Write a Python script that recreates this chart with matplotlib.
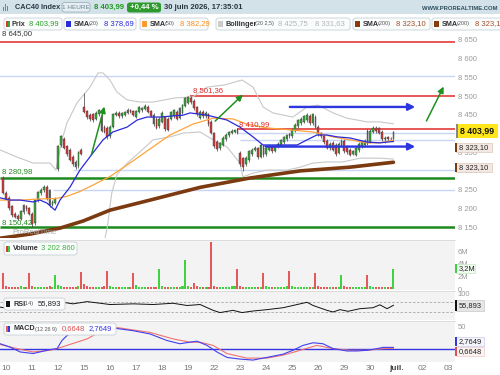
import numpy as np
import matplotlib.pyplot as plt
from matplotlib.patches import Rectangle, FancyBboxPatch

plt.rcParams['font.family'] = ['Liberation Sans', 'DejaVu Sans']

W, H = 500, 375

# hourly bars, bar 0 = first bar of 10 juin, 9 bars per session
first_bar = -1
opens = [8282,
         8242, 8228, 8205, 8186, 8180, 8172, 8190, 8206, 8200,
         8185, 8160, 8222, 8240, 8248, 8258, 8248, 8210, 8215,
         8305, 8368, 8386, 8366, 8356, 8338, 8325, 8312, 8356,
         8470, 8460, 8450, 8452, 8440, 8452, 8445, 8418, 8415,
         8392, 8418, 8450, 8456, 8446, 8450, 8456, 8462, 8460,
         8445, 8458, 8462, 8466, 8472, 8460, 8450, 8440, 8420,
         8432, 8444, 8440, 8440, 8446, 8458, 8442, 8455, 8474,
         8482, 8496, 8488, 8470, 8442, 8458, 8446, 8452, 8432,
         8400, 8378, 8360, 8370, 8384, 8395, 8402, 8404, 8410,
         8348, 8334, 8318, 8328, 8345, 8356, 8360, 8338, 8366,
         8344, 8356, 8364, 8354, 8364, 8370, 8376, 8385, 8398,
         8392, 8408, 8420, 8428, 8432, 8436, 8448, 8428, 8445,
         8418, 8400, 8393, 8380, 8360, 8375, 8370, 8348, 8370,
         8380, 8365, 8356, 8346, 8343, 8355, 8366, 8370, 8408,
         8378, 8404, 8416, 8414, 8405, 8385, 8390, 8386, 8384]
closes = [8242,
          8226, 8200, 8182, 8178, 8172, 8192, 8208, 8198, 8185,
          8158, 8222, 8243, 8250, 8258, 8225, 8208, 8218, 8225,
          8366, 8392, 8362, 8345, 8330, 8318, 8310, 8350, 8346,
          8458, 8444, 8438, 8436, 8455, 8462, 8408, 8404, 8390,
          8418, 8452, 8456, 8446, 8454, 8457, 8463, 8458, 8450,
          8460, 8470, 8468, 8474, 8458, 8448, 8425, 8416, 8440,
          8456, 8412, 8410, 8457, 8462, 8440, 8468, 8476, 8494,
          8497, 8484, 8468, 8452, 8458, 8446, 8455, 8425, 8402,
          8366, 8358, 8374, 8388, 8396, 8404, 8408, 8410, 8402,
          8318, 8310, 8335, 8352, 8356, 8362, 8336, 8370, 8342,
          8362, 8364, 8352, 8366, 8372, 8382, 8390, 8395, 8392,
          8410, 8424, 8436, 8440, 8446, 8450, 8428, 8452, 8418,
          8398, 8392, 8376, 8362, 8372, 8357, 8345, 8372, 8380,
          8352, 8350, 8343, 8352, 8362, 8372, 8376, 8380, 8372,
          8408, 8415, 8406, 8402, 8385, 8388, 8385, 8384, 8403.99]
hi_extra = {27: 8508, 63: 8501.36, 79: 8410.99, 106: 8456, 129: 8418}
lo_extra = {9: 8150.42, 73: 8352, 82: 8301, 131: 8375}
wick = 4

# volume in millions
volumes = [2.6,
           0.45, 0.35, 0.3, 0.35, 0.3, 0.45, 0.35, 0.3, 2.6,
           0.55, 0.4, 0.35, 0.3, 0.3, 0.35, 0.45, 0.4, 2.25,
           0.7, 0.5, 0.35, 0.35, 0.3, 0.35, 0.3, 0.55, 2.75,
           0.75, 0.45, 0.35, 0.3, 0.35, 0.3, 0.3, 0.5, 2.9,
           0.45, 0.3, 0.3, 0.3, 0.25, 0.3, 0.35, 0.3, 2.5,
           0.6, 0.35, 0.3, 0.3, 0.25, 0.3, 0.35, 0.4, 3.2,
           0.5, 0.35, 0.3, 0.3, 0.3, 0.25, 0.35, 0.45, 4.6,
           0.5, 0.35, 1.0, 0.45, 0.3, 0.3, 0.35, 0.4, 7.6,
           0.45, 0.35, 0.3, 0.3, 0.3, 0.35, 0.45, 0.5, 3.2,
           0.5, 0.35, 0.3, 0.3, 0.25, 0.3, 0.35, 0.4, 2.6,
           0.45, 0.35, 0.3, 0.3, 0.3, 0.35, 0.4, 0.5, 2.9,
           0.45, 0.35, 0.3, 0.3, 0.25, 0.3, 0.35, 0.4, 2.5,
           0.5, 0.35, 0.3, 0.3, 0.3, 0.3, 0.35, 0.4, 2.3,
           0.45, 0.35, 0.3, 0.3, 0.25, 0.3, 0.3, 0.35, 2.3,
           0.5, 0.35, 0.3, 0.3, 0.25, 0.3, 0.35, 0.4, 3.2]

day_labels = ['10', '11', '12', '15', '16', '17', '18', '19', '22', '23',
              '24', '25', '26', '29', '30', 'juil.', '02', '03']

# indicators (bar position, value)
sma20_at = [-2.1, 1.3, 4.8, 9.3, 11.7, 14.1, 16.9, 18.6, 22.1, 25.5, 30, 33.5, 36.9,
            41.8, 45.3, 48.7, 53.2, 57.7, 61.2, 63.6, 69.5, 76.4, 80.9, 85.4, 88.9,
            100.6, 104.1, 107.5, 111, 114.5, 119, 124.9, 129.3, 134]
sma20 = [8228, 8222, 8222, 8217, 8222, 8214, 8195, 8222, 8257, 8302, 8348, 8383, 8404,
         8417, 8436, 8444, 8444, 8447, 8449, 8455, 8449, 8436, 8417, 8391, 8369,
         8369, 8383, 8396, 8396, 8391, 8388, 8377, 8375, 8378.69]
sma50_at = [-2.1, 4.8, 11.7, 16.9, 21, 25.5, 30, 35.9, 42.8, 49.8, 56.7, 64.6, 71.6,
            78.5, 83.3, 90.2, 99.2, 106.2, 113.1, 119, 124.9, 129.3, 134]
sma50 = [8222, 8222, 8225, 8226, 8232, 8245, 8262, 8285, 8321, 8359, 8396, 8425, 8441,
         8439, 8425, 8415, 8409, 8404, 8391, 8383, 8375, 8375, 8382.29]
sma200_at = [-2.1, 8.2, 18.6, 26.6, 35.9, 49.8, 67.1, 84.4, 101.7, 119, 134]
sma200 = [8120, 8131, 8147, 8166, 8195, 8222, 8256, 8281, 8300, 8310, 8323.10]
boll_up_at = [-2.1, 3.7, 9.3, 15.2, 17.2, 19.3, 21, 24.5, 29, 31.8, 33.5, 35.9, 38.3,
              41.8, 46.3, 50.8, 54.9, 58.4, 64.6, 69.5, 75.7, 81.6, 85.4, 88.9, 92.3,
              99.2, 104.1, 107.9, 113.1, 117.9, 124.9, 129.3, 134]
boll_up = [8356, 8337, 8321, 8321, 8302, 8383, 8428, 8482, 8524, 8562, 8562, 8543, 8511,
           8490, 8484, 8484, 8490, 8495, 8498, 8524, 8530, 8543, 8524, 8471, 8455,
           8444, 8471, 8476, 8455, 8441, 8431, 8431, 8425.75]
boll_lo_at = [-2.1, 9.3, 15.2, 17.5, 21, 25.5, 30, 33.5, 35, 36.5, 38.3, 41.8, 46.3,
              50.8, 56.7, 61.2, 67.1, 71.6, 76.4, 80.9, 81.9, 85.4, 90.2, 97.2, 101.7,
              106.2, 111, 116.5, 122.4, 129.3, 134]
boll_lo = [8105, 8112, 8108, 8080, 8058, 8070, 8085, 8095, 8150, 8240, 8290, 8320, 8351,
           8383, 8391, 8401, 8404, 8383, 8364, 8321, 8284, 8294, 8302, 8302, 8310,
           8321, 8324, 8324, 8334, 8334, 8331.63]
rsi_at = [-2.1, 1.3, 4.8, 9.3, 12.7, 16.2, 19.7, 23.1, 28, 32.5, 35.9, 44, 50.8, 57.7,
          62.6, 67.1, 71.6, 74, 78.5, 81.6, 85.4, 90.2, 95.8, 101.7, 104.1, 106.2, 111,
          113.1, 115.5, 118.3, 122.4, 126.9, 129.3, 131.8, 134]
rsi = [48.7, 42.7, 39, 42.7, 48.7, 51, 67.4, 61.4, 70, 63.7, 58.8, 61.4, 58.8, 63.7,
       55, 58.8, 36.3, 27.7, 36.3, 27.7, 33.7, 39, 46.4, 61.4, 67.4, 55, 36.3,
       30, 39, 32.6, 42.7, 46.4, 57.7, 42.7, 55.893]
macd_at = [-2.1, 1.3, 4.8, 9.3, 12.7, 15.2, 17.6, 19.3, 21, 25, 30, 34, 38.3, 44, 49.8,
           55.6, 60.1, 63.6, 66, 69.5, 72.9, 76.4, 80.9, 85.4, 90.2, 95.8, 99.2, 102.7,
           106.2, 109.6, 113.1, 117.9, 121.4, 124.9, 128.3, 130.4, 134]
macd = [11.1, 3.5, -7.5, -11.1, -6, -2.2, 0, 18.4, 29.4, 45, 55, 52, 45.6, 40.5, 33.2,
        18.4, 11.1, 14.6, 16.8, 7.3, -7.5, -19.9, -23.7, -25.9, -19.9, -12.6, -3.8, 7.3,
        13.3, 11.1, 0, -5.3, -5.3, -3.8, 0, 2.9, 2.7649]
signal_at = [-2.1, 3.7, 9.3, 15.2, 17.6, 21, 25.5, 28, 33, 38.3, 49.8, 57.7, 63.6, 67.1,
             71.6, 76.4, 83.3, 90.2, 95.8, 101.7, 107.5, 113.1, 119, 124.9, 130.4, 134]
signal = [9.5, 0, -7.5, -3.8, 0, 7.3, 16.8, 22.1, 40, 47.8, 36.7, 22.1, 14.6, 14.6,
          7.3, -11.1, -21.5, -21.5, -14.8, -3.8, 7.3, 0, -3.8, -3.8, 0, 0.6648]

# drawn levels and arrows
red_levels = [8645.00, 8501.36, 8410.99]
red_start = [-3, 63.6, 79.9]
green_levels = [8280.98, 8150.42]
blue_levels = [8555, 8400.5, 8383, 8302, 8249]
blue_start = [-3, 79.9, 80.9, 23.2, 16.2]
green_arrows = [((29.2, 8335), (34.2, 8479)), ((71.6, 8428), (82.6, 8509)),
                ((145.0, 8427), (151.8, 8532))]
blue_arrows = [(8471, 97.2, 142.5), (8365, 88.9, 142.5)]

XMIN, XMAX = -2.15, 155.3

fig = plt.figure(figsize=(W / 100, H / 100), dpi=100)


def box(x0, y0, x1, y1):
    return [x0 / W, 1 - y1 / H, (x1 - x0) / W, (y1 - y0) / H]


def ftext(x, y, s, **kw):
    kw.setdefault('va', 'center')
    kw.setdefault('fontsize', 5.5)
    return fig.text(x / W, 1 - y / H, s, **kw)


def frect(x0, y0, x1, y1, rounded=False, **kw):
    if rounded:
        p = FancyBboxPatch((x0 / W, 1 - y1 / H), (x1 - x0) / W, (y1 - y0) / H,
                           boxstyle='round,pad=0,rounding_size=0.006',
                           transform=fig.transFigure, **kw)
    else:
        p = Rectangle((x0 / W, 1 - y1 / H), (x1 - x0) / W, (y1 - y0) / H,
                      transform=fig.transFigure, **kw)
    fig.patches.append(p)


def fmt(v):
    return f'{v:,.0f}'.replace(',', ' ')


ax = fig.add_axes(box(0, 30, 455, 238))
axv = fig.add_axes(box(0, 240, 455, 290))
axr = fig.add_axes(box(0, 291, 455, 320))
axm = fig.add_axes(box(0, 321, 455, 362))

for a in (ax, axv, axr, axm):
    a.set_xlim(XMIN, XMAX)
    for s in a.spines.values():
        s.set_visible(False)
    a.yaxis.tick_right()
    a.tick_params(axis='y', length=0, pad=2, labelsize=5.5, labelcolor='#9a9a9a')
    a.tick_params(axis='x', length=0, labelbottom=False)
for a in (axv, axr, axm):
    a.set_facecolor('#f3f3f3')
    a.spines['top'].set_visible(True)
    a.spines['top'].set_color('#d8d8d8')
    a.spines['top'].set_linewidth(0.6)

# ---- price panel
ax.set_ylim(8120.6, 8676.7)
price_ticks = list(range(8150, 8651, 50))
ax.set_yticks(price_ticks)
# 8 400 sits fully under the last-price tag
ax.set_yticklabels(['' if v == 8400 else fmt(v) for v in price_ticks])

bars = np.arange(first_bar, first_bar + len(closes))
o = np.array(opens, float)
c = np.array(closes, float)
hi = np.maximum(o, c) + wick
lo = np.minimum(o, c) - wick
for k, v in hi_extra.items():
    hi[k - first_bar] = v
for k, v in lo_extra.items():
    lo[k - first_bar] = v
up = c >= o

for lv, st in zip(blue_levels, blue_start):
    ax.hlines(lv, st, XMAX, color='#c9d5f7', lw=1.0, zorder=1)
ax.add_patch(Rectangle((88.9, 8363), 11.7, 10, color='#b7c5f3', lw=0, zorder=1))
for lv, st in zip(red_levels, red_start):
    ax.hlines(lv, st, XMAX, color='#e02a2a', lw=1.1, zorder=2)
for lv in green_levels:
    ax.hlines(lv, XMIN, XMAX, color='#1d8a1d', lw=1.8, zorder=2)

ax.plot(boll_up_at, boll_up, color='#c8c8c8', lw=0.8, zorder=2)
ax.plot(boll_lo_at, boll_lo, color='#c8c8c8', lw=0.8, zorder=2)
ax.plot(sma200_at, sma200, color='#7b3a10', lw=2.6, zorder=3, solid_capstyle='round')

ax.vlines(bars, lo, hi, color='#3a3a3a', lw=0.5, zorder=4)
ax.bar(bars, np.maximum(np.abs(c - o), 1.0), bottom=np.minimum(o, c), width=0.62,
       color=np.where(up, '#37a837', '#d83b3b'), edgecolor='#3a3a3a', linewidth=0.3, zorder=5)

ax.plot(sma50_at, sma50, color='#ffa43a', lw=0.9, zorder=6)
ax.plot(sma20_at, sma20, color='#2a2ad8', lw=0.9, zorder=6)

for (x0, y0), (x1, y1) in green_arrows:
    ax.annotate('', xy=(x1, y1), xytext=(x0, y0), zorder=7,
                arrowprops=dict(arrowstyle='-|>', color='#1f8f1f', lw=1.1, mutation_scale=9))
for lv, x0, x1 in blue_arrows:
    ax.annotate('', xy=(x1, lv), xytext=(x0, lv), zorder=7,
                arrowprops=dict(arrowstyle='-|>', color='#2b35e0', lw=1.7, mutation_scale=10))

ax.text(-1.5, 8668, '8 645,00', fontsize=5.6, color='#333333', va='center', zorder=8)
ax.text(-1.5, 8297, '8 280,98', fontsize=5.6, color='#1d8a1d', va='center', zorder=8)
ax.text(-1.5, 8163, '8 150,42', fontsize=5.6, color='#1d8a1d', va='center', zorder=8)
ax.text(64.7, 8514, '8 501,36', fontsize=5.6, color='#e02a2a', va='center', zorder=8)
ax.text(80.6, 8423, '8 410,99', fontsize=5.6, color='#e02a2a', va='center', zorder=8)
ax.text(2.2, 8134, 'ProRealTime', fontsize=5.5, color='#a8a8a8', va='center', zorder=8)

# ---- volume panel
axv.set_ylim(-0.16, 7.84)
axv.set_yticks([0, 2, 4, 6])
axv.set_yticklabels(['0', '2M', '4M', '6M'])
axv.bar(bars, volumes, width=0.7, color=np.where(up, '#3fd13f', '#e35a5a'), lw=0)

# ---- RSI panel
axr.set_ylim(-1, 111)
axr.set_yticks([100])
axr.set_yticklabels(['100'])
for lv in (70, 30):
    axr.axhline(lv, color='#a8a8a8', lw=0.6, ls=(0, (3, 2)))
axr.plot(rsi_at, rsi, color='#111111', lw=0.7)

# ---- MACD panel
axm.set_ylim(-30.3, 62.6)
axm.set_yticks([50])
axm.set_yticklabels(['50'])
axm.axhline(0, color='#3535e6', lw=1.0)
axm.plot(signal_at, signal, color='#f07272', lw=0.8)
axm.plot(macd_at, macd, color='#4040f0', lw=0.8)
axm.set_xticks([9 * k for k in range(len(day_labels))])
axm.set_xticklabels(day_labels)
axm.tick_params(axis='x', labelbottom=True, pad=2, labelsize=6, labelcolor='#777777')
for t in axm.get_xticklabels():
    if t.get_text() == 'juil.':
        t.set_fontweight('bold')
        t.set_color('#444444')

# ---- header
frect(0, 0, 500, 14, color='#d3e1e9', lw=0)
for i, hgt in enumerate([4, 7, 5]):
    frect(3 + 2 * i, 11 - hgt, 4.3 + 2 * i, 11, color='#4a90c8', lw=0)
ftext(15, 7.5, 'CAC40 Index', fontsize=5.3, fontweight='bold', color='#2a3a44')
frect(62, 2.5, 90, 12, rounded=True, fc='#e4eef3', ec='#9fb2bc', lw=0.6)
ftext(76, 7.5, '1 HEURE', fontsize=4.6, color='#6d8490', ha='center')
ftext(94, 7.5, '8 403,99', fontsize=5.6, color='#1e9a1e', fontweight='bold')
frect(127, 2.5, 161, 12.5, rounded=True, fc='#2e9a2e', lw=0)
ftext(144, 7.5, '+0,44 %', fontsize=5.6, color='white', fontweight='bold', ha='center')
ftext(164, 7.5, '30 juin 2026, 17:35:01', fontsize=5.5, color='#26343c', fontweight='bold')
ftext(497, 9, 'WWW.PROREALTIME.COM', fontsize=4.2, color='#2f4f5f', fontweight='bold', ha='right')


# ---- legend row
def legend_box(x0, x1, y0, y1):
    frect(x0, y0, x1, y1, rounded=True, fc='#fbfcfc', ec='#cdd6da', lw=0.7)


ly = 24
legend_box(4, 62, 18, 30)
frect(6, 21, 8, 27, color='#d83b3b', lw=0)
frect(8, 21, 10, 27, color='#37a837', lw=0)
ftext(12, ly, 'Prix', fontsize=5.2, fontweight='bold', color='#333333')
ftext(29, ly, '8 403,99', color='#2ca02c')

items = [(64, 136, '#2a2ad8', '(20)', '8 378,69', '#2a2ad8'),
         (140, 208, '#ff9a2e', '(50)', '8 382,29', '#ff8c1a'),
         (353, 430, '#8b3a0e', '(200)', '8 323,10', '#a0522d'),
         (432, 505, '#8b3a0e', '(200)', '8 323,1', '#a0522d')]
for x0, x1, sq, par, val, vc in items:
    legend_box(x0, x1, 18, 30)
    frect(x0 + 2, 21, x0 + 7, 27, color=sq, lw=0)
    ftext(x0 + 10, ly, 'SMA', fontsize=5.2, fontweight='bold', color='#333333')
    ftext(x0 + 25, ly, par, fontsize=4, color='#555555')
    ftext(x0 + 40 + (3 if par == '(200)' else 0), ly, val, color=vc)
legend_box(216, 350, 18, 30)
frect(218, 21, 223, 27, color='#cccccc', lw=0)
ftext(226, ly, 'Bollinger', fontsize=5.2, fontweight='bold', color='#333333')
ftext(255, ly, '(20 2,5)', fontsize=4, color='#555555')
ftext(278, ly, '8 425,75', color='#b4b4b4')
ftext(315, ly, '8 331,63', color='#b4b4b4')

# ---- panel legends
legend_box(4, 77, 242, 255)
frect(6, 245.5, 8, 251.5, color='#d83b3b', lw=0)
frect(8, 245.5, 10, 251.5, color='#3fd13f', lw=0)
ftext(13, 248.5, 'Volume', fontsize=5.2, fontweight='bold', color='#333333')
ftext(41, 248.5, '3 202 860', color='#3ab53a')

legend_box(4, 65, 298, 310)
frect(6, 301, 10, 307, color='#111111', lw=0)
ftext(13, 304, 'RSI', fontsize=5.2, fontweight='bold', color='#333333')
ftext(24, 304, '(14)', fontsize=4, color='#555555')
ftext(38, 304, '55,893', color='#222222')

legend_box(4, 116, 323, 335)
frect(6, 326, 8, 332, color='#e06060', lw=0)
frect(8, 326, 10, 332, color='#3535e6', lw=0)
ftext(13, 329, 'MACD', fontsize=5.2, fontweight='bold', color='#333333')
ftext(35, 329, '(12 26 9)', fontsize=4, color='#555555')
ftext(62, 329, '0,6648', color='#e05050')
ftext(89, 329, '2,7649', color='#3535e6')

# ---- right-edge value tags
frect(456, 124, 498, 138, fc='#ffe71a', lw=0)
frect(456, 124, 458, 138, fc='#888888', lw=0)
ftext(460, 131, '8 403,99', fontsize=6.3, fontweight='bold', color='#111111')
for yy in (143, 162.5):
    frect(456, yy, 492, yy + 9, fc='#f4e9e2', ec='#dcc7ba', lw=0.5)
    ftext(459, yy + 4.7, '8 323,10', fontsize=5.4, color='#222222')
    frect(455, yy, 457, yy + 9, fc='#7b3a10', lw=0)
frect(456, 264, 475, 273, fc='#f2fbf2', ec='#bfe8bf', lw=0.5)
frect(455, 264, 457, 273, fc='#3fd13f', lw=0)
ftext(459, 268.5, '3,2M', fontsize=5.4, color='#222222')
frect(456, 300, 484, 311, fc='#e6e6e6', ec='#c8c8c8', lw=0.5)
frect(455, 300, 457, 311, fc='#111111', lw=0)
ftext(459, 305.5, '55,893', fontsize=5.4, color='#222222')
frect(456, 337, 484, 346, fc='#f4f4fb', ec='#ccccee', lw=0.5)
frect(455, 337, 457, 346, fc='#3535e6', lw=0)
ftext(459, 341.5, '2,7649', fontsize=5.4, color='#222222')
frect(456, 347, 484, 356, fc='#fbf2f2', ec='#eecccc', lw=0.5)
frect(455, 347, 457, 356, fc='#e05050', lw=0)
ftext(459, 351.5, '0,6648', fontsize=5.4, color='#222222')

fig.savefig('out.png', dpi=100)
